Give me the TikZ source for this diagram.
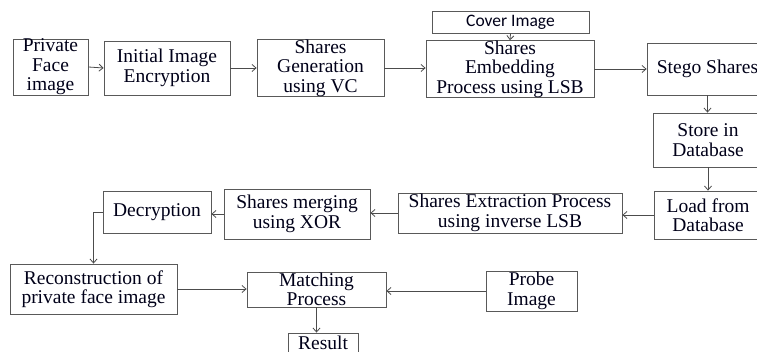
\documentclass[tikz,border=0pt]{standalone}
\usepackage{fontspec}
\setmainfont{Liberation Serif}
\newfontfamily\calfont{Carlito}
\usetikzlibrary{arrows.meta}
\tikzset{
  box/.style={draw=black!65, line width=0.8pt, rectangle, inner sep=0pt, align=center,
    text=black!90!blue, font=\fontsize{19.5}{19.5}\selectfont},
  sbox/.style={box, font=\calfont\fontsize{17.5}{17.5}\selectfont},
  arr/.style={draw=black!70, line width=0.8pt, -{Straight Barb[length=4pt,width=7pt]}}
}
\begin{document}
\begin{tikzpicture}[x=1pt,y=-1pt]
\useasboundingbox (0,0) rectangle (757,352);
\clip (0,0) rectangle (757,352);
\fill[white] (0,0) rectangle (757,352);
\node[box, minimum width=75pt, minimum height=56pt] (pfi) at (50.5,67) {Private\\Face\\image};
\node[box, minimum width=126pt, minimum height=54pt] (iie) at (167,68) {Initial Image\\Encryption};
\node[box, minimum width=127pt, minimum height=54pt] (sgv) at (320.5,68) {Shares\\Generation\\using VC};
\node[sbox, minimum width=157pt, minimum height=22pt] (cov) at (510.5,22) {Cover Image};
\node[box, minimum width=168pt, minimum height=52pt] (seb) at (510,69) {Shares\\Embedding\\Process using LSB};
\node[box, minimum width=121pt, minimum height=52pt] (stg) at (707.5,69) {Stego Shares};
\node[box, minimum width=110pt, minimum height=54pt] (sto) at (708,140) {Store in\\Database};
\node[box, minimum width=108pt, minimum height=48pt] (lfd) at (708,215) {Load from\\Database};
\node[box, minimum width=224pt, minimum height=40pt] (sep) at (510,213) {Shares Extraction Process\\using inverse LSB};
\node[box, minimum width=146pt, minimum height=50pt] (smx) at (297,214) {Shares merging\\using XOR};
\node[box, minimum width=108pt, minimum height=42pt] (dec) at (157,212) {Decryption};
\node[box, minimum width=167pt, minimum height=50pt] (rec) at (93.5,289) {Reconstruction of\\private face image};
\node[box, minimum width=139pt, minimum height=35pt] (mat) at (316.5,289.5) {Matching\\Process};
\node[box, minimum width=91pt, minimum height=40pt] (prb) at (531.5,291) {Probe\\Image};
\node[box, minimum width=70pt, minimum height=19pt, text height=13pt, text depth=0pt] (res) at (323,342.5) {Result};
\draw[arr] (pfi.east) -- (iie.west);
\draw[arr] (iie.east) -- (sgv.west);
\draw[arr] (sgv.east) -- (sgv.east -| seb.west);
\draw[arr] (cov.south) -- (seb.north);
\draw[arr] (seb.east) -- (seb.east -| stg.west);
\draw[arr] (stg.south) -- (stg.south |- sto.north);
\draw[arr] (sto.south) -- (sto.south |- lfd.north);
\draw[arr] (lfd.west) -- (lfd.west -| sep.east);
\draw[arr] (sep.west) -- (sep.west -| smx.east);
\draw[arr] (smx.west) -- (smx.west -| dec.east);
\draw[arr] (dec.west) -| (rec.north);
\draw[arr] (rec.east) -- (rec.east -| mat.west);
\draw[arr] (prb.west) -- (prb.west -| mat.east);
\draw[arr] (mat.south) -- (mat.south |- res.north);
\end{tikzpicture}
\end{document}
